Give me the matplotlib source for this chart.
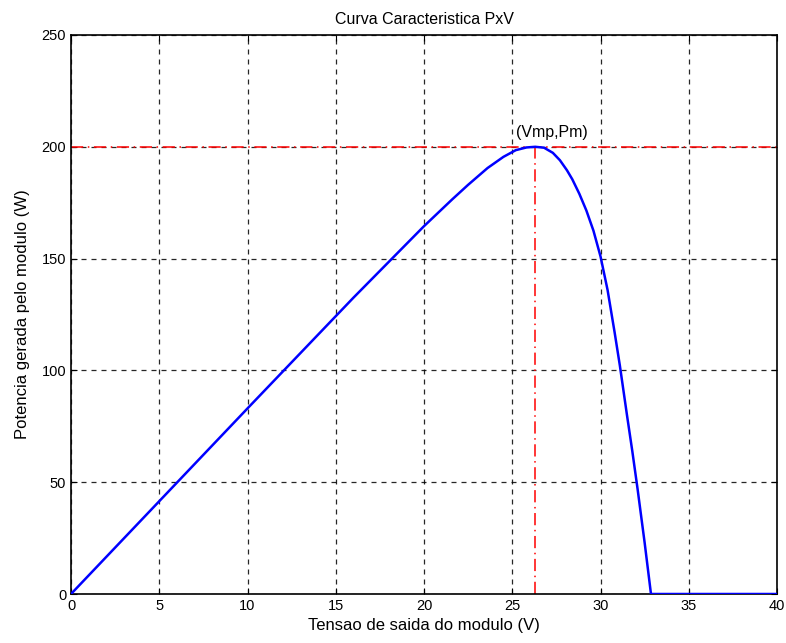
import matplotlib
matplotlib.use("Agg")
import matplotlib.pyplot as plt

plt.rcParams['font.family'] = ['Liberation Sans', 'DejaVu Sans']

V = [0, 2, 4, 6, 8, 10, 12, 14, 16, 18, 20, 21, 21.6, 22.5, 23.6, 24.5, 25.2, 25.8, 26.3,
     26.8, 27.3, 27.7, 28.1, 28.4, 28.8, 29.2, 29.6, 30.0, 30.4, 30.8, 31.1, 31.5, 31.8,
     32.1, 32.5, 32.86, 33, 40]
P = [0, 16.6, 33.2, 49.8, 66.4, 83, 99.5, 116, 132.5, 148.5, 164.5, 172, 176.5, 183, 190.5,
     195.5, 198.5, 199.7, 200, 199.6, 197.3, 194, 189.5, 185.5, 179, 171.5, 162.5, 151, 136,
     117, 102, 80, 64, 47, 23, 0, 0, 0]
Vmp = 26.3
Pm = 200
xticks = [0, 5, 10, 15, 20, 25, 30, 35, 40]
yticks = [0, 50, 100, 150, 200, 250]

fig = plt.figure(figsize=(7.86, 6.43), dpi=100)
ax = fig.add_axes([71/786, 49/643, 706/786, 559/643])

ax.plot(V, P, color='#0000ff', lw=1.8, zorder=3)
ax.axhline(Pm, color='red', ls=(0, (8, 3, 1, 3)), lw=1.1, zorder=2)
ax.plot([Vmp, Vmp], [0, Pm], color='red', ls=(0, (8, 3, 1, 3)), lw=1.1, zorder=2)
ax.text(Vmp - 1.1, Pm + 3, '(Vmp,Pm)', fontsize=11.5, ha='left', va='bottom')

ax.set_xlim(0, 40)
ax.set_ylim(0, 250)
ax.set_xticks(xticks)
ax.set_yticks(yticks)
ax.grid(True, color='black', ls=(0, (4, 4)), lw=0.9, alpha=0.85)
ax.tick_params(direction='in', top=True, right=True, labelsize=10.5, length=4)
for s in ax.spines.values():
    s.set_linewidth(1.2)

ax.set_title('Curva Caracteristica PxV', fontsize=11.5, pad=8)
ax.set_xlabel('Tensao de saida do modulo (V)', fontsize=12, labelpad=4)
ax.set_ylabel('Potencia gerada pelo modulo (W)', fontsize=12, labelpad=8)

fig.savefig('out.png', dpi=100)
